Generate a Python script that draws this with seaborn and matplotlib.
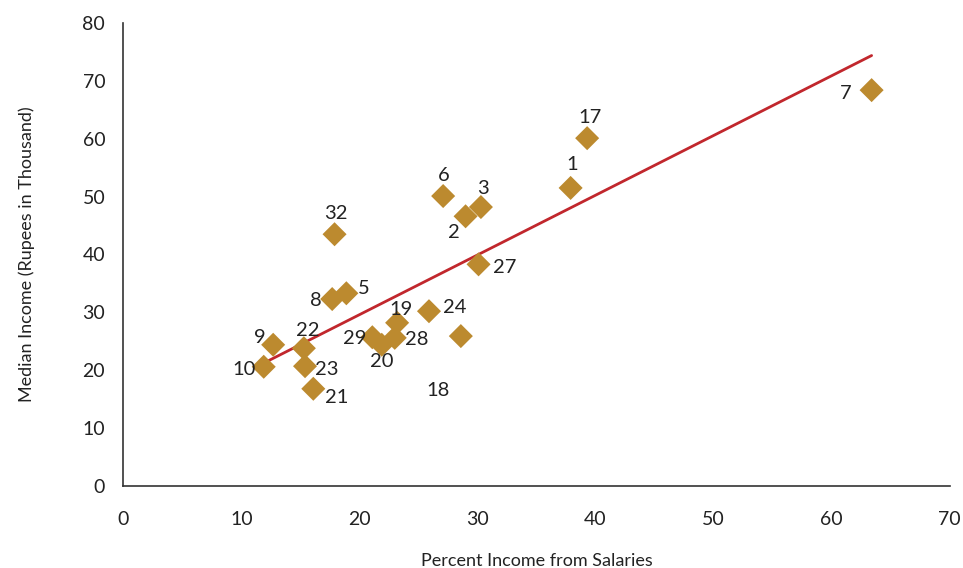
import matplotlib
matplotlib.use("Agg")
import matplotlib.pyplot as plt
import numpy as np
import pandas as pd
import seaborn as sns

# districts: id, percent income from salaries, median income (Rs '000)
ids = ["7", "17", "1", "6", "3", "2", "32", "27", "5", "8", "24", "19",
       "9", "22", "29", "20", "28", "18", "10", "23", "21"]
pct_salary = [63.4, 39.3, 37.9, 27.1, 30.3, 29.0, 17.9, 30.1, 18.9, 17.7, 25.9, 23.2,
              12.7, 15.3, 21.1, 21.9, 23.0, 28.6, 11.9, 15.4, 16.1]
median_income = [68.4, 60.1, 51.5, 50.1, 48.2, 46.6, 43.5, 38.3, 33.3, 32.3, 30.2, 28.2,
                 24.4, 23.8, 25.7, 24.4, 25.6, 25.9, 20.6, 20.7, 16.8]

# linear trendline as shown on the chart
trend_slope = 1.032
trend_intercept = 8.95

# label offsets in pixels (dx, dy), ha
LABEL_POS = {
    "7": (-20, -3, "right"), "17": (3, 21, "center"), "1": (2, 23, "center"),
    "6": (1, 21, "center"), "3": (2, 19, "center"), "2": (-12, -16, "center"),
    "32": (1, 21, "center"), "27": (14, -3, "left"), "5": (12, 5, "left"),
    "8": (-10, -1, "right"), "24": (14, 4, "left"), "19": (4, 13, "center"),
    "9": (-8, 7, "right"), "22": (4, 18, "center"), "29": (-6, -1, "right"),
    "20": (0, -17, "center"), "28": (10, -2, "left"), "18": (-23, -54, "center"),
    "10": (-8, -3, "right"), "23": (10, -3, "left"), "21": (12, -9, "left"),
}

GOLD = "#BC8A2F"
RED = "#C1272D"
TXT = "#222222"

df = pd.DataFrame({"id": ids, "x": pct_salary, "y": median_income})

sns.set_theme(style="white")
plt.rcParams["font.family"] = ["Lato", "DejaVu Sans"]

fig = plt.figure(figsize=(9.63, 5.68), dpi=100)
ax = fig.add_axes([0.128, 0.1444, 0.858, 0.8151])

xs = np.array([df["x"].min(), df["x"].max()])
fit = pd.DataFrame({"x": xs, "y": trend_slope * xs + trend_intercept})
sns.lineplot(data=fit, x="x", y="y", color=RED, lw=2, ax=ax, zorder=2)

sns.scatterplot(data=df, x="x", y="y", marker="D", s=150, color=GOLD,
                edgecolor="none", ax=ax, zorder=3)

for _, r in df.iterrows():
    dx, dy, ha = LABEL_POS[r["id"]]
    ax.annotate(r["id"], (r["x"], r["y"]), xytext=(dx, dy), textcoords="offset pixels",
                ha=ha, va="center", fontsize=14.5, color=TXT, zorder=4)

ax.set_xlim(0, 70)
ax.set_ylim(0, 80)
ax.set_xticks(range(0, 71, 10))
ax.set_yticks(range(0, 81, 10))
ax.tick_params(axis="both", direction="out", length=5, width=1, colors="#333333",
               labelsize=14, labelcolor=TXT, pad=8)
ax.tick_params(axis="x", pad=13)
for s in ["top", "right"]:
    ax.spines[s].set_visible(False)
for s in ["left", "bottom"]:
    ax.spines[s].set_color("#333333")
    ax.spines[s].set_linewidth(1.2)

ax.set_xlabel("Percent Income from Salaries", fontsize=13, color=TXT, labelpad=18)
ax.set_ylabel("Median Income (Rupees in Thousand)", fontsize=13, color=TXT, labelpad=34)

fig.savefig("out.png", dpi=100)
